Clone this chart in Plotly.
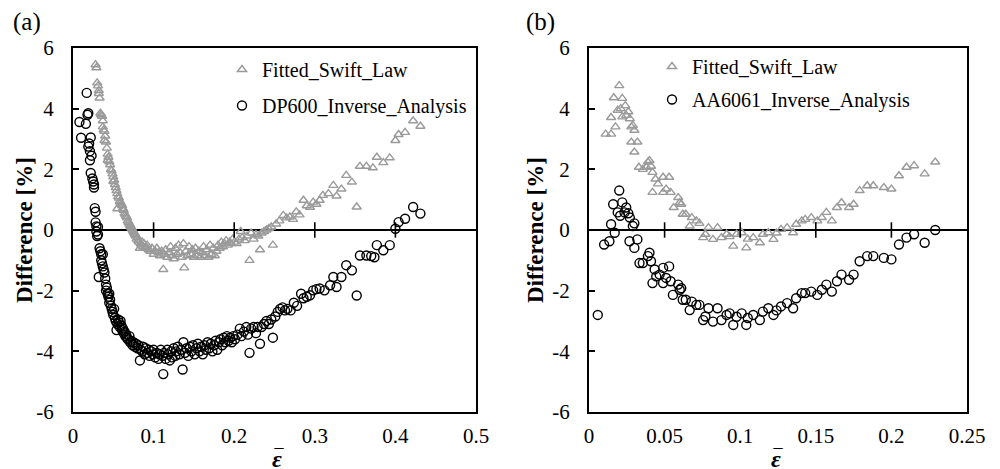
import plotly.graph_objects as go

# ---------------- Panel (a) DP600 ----------------
swift_a_x = [0.028,0.029,0.030,0.031,0.032,0.032,0.033,0.034,0.035,0.036,0.037,0.037,0.038,0.039,0.039,0.040,0.041,0.042,0.043,0.043,
             0.044,0.045,0.046,0.047,0.048,0.049,0.050,0.050,0.051,0.052,0.053,0.054,0.055,0.055,0.056,0.057,0.058,0.059,0.060,0.061,
             0.062,0.063,0.064,0.065,0.066,0.067,0.068,0.069,0.070,0.071,0.072,0.073,0.074,0.075,0.076,0.077,0.078,0.079,0.080,0.081,
             0.082,0.083,0.084,0.085,0.086,0.087,0.088,0.090,0.092,0.094,0.096,0.098,0.100,0.102,0.104,0.106,0.108,0.110,0.112,0.113,
             0.115,0.117,0.119,0.121,0.123,0.125,0.127,0.129,0.131,0.133,0.135,0.137,0.138,0.140,0.142,0.144,0.146,0.148,0.150,0.152,
             0.154,0.156,0.158,0.160,0.162,0.164,0.166,0.168,0.170,0.172,0.174,0.176,0.178,0.180,0.182,0.184,0.186,0.188,0.190,0.192,
             0.194,0.196,0.198,0.200,0.203,0.206,0.208,0.210,0.213,0.216,0.219,0.221,0.224,0.227,0.230,0.232,0.234,0.237,0.240,0.243,
             0.246,0.248,0.252,0.256,0.261,0.265,0.269,0.273,0.277,0.281,0.286,0.290,0.294,0.298,0.302,0.306,0.310,0.317,0.323,0.327,
             0.333,0.339,0.346,0.352,0.356,0.364,0.372,0.377,0.385,0.393,0.400,0.404,0.412,0.422,0.431]
swift_a_y = [5.45,5.35,4.85,4.75,4.60,4.50,4.35,3.85,3.80,3.75,3.60,3.40,3.30,3.25,2.95,3.10,2.90,2.70,2.50,2.30,
             2.40,2.25,2.15,2.00,1.95,1.85,1.75,1.60,1.65,1.50,1.40,1.30,0.70,1.20,1.10,1.05,0.95,0.90,0.85,0.80,
             0.70,0.65,0.55,0.50,0.45,0.40,0.30,0.25,0.20,0.15,0.10,0.05,0.00,-0.05,-0.10,-0.15,-0.20,-0.30,-0.25,-0.35,
             -0.40,-0.60,-0.45,-0.50,-0.40,-0.55,-0.45,-0.60,-0.50,-0.65,-0.70,-0.60,-0.80,-0.70,-0.60,-0.75,-0.85,-0.70,-1.30,-0.80,
             -0.65,-0.90,-0.75,-0.55,-0.85,-0.95,-0.60,-0.80,-0.50,-0.75,-0.90,-0.45,-1.25,-0.70,-0.85,-0.55,-0.80,-0.65,-0.90,-0.60,
             -0.85,-0.70,-0.90,-0.75,-0.55,-0.85,-0.65,-0.90,-0.50,-0.80,-0.60,-0.85,-0.70,-0.50,-0.60,-0.40,-0.55,-0.45,-0.35,-0.50,
             -0.40,-0.45,-0.30,-0.40,-0.45,-0.30,-0.05,-0.25,-0.35,-0.20,-1.00,-0.10,-0.30,-0.15,-0.20,-0.65,-0.10,-0.05,0.00,0.05,
             0.10,-0.50,0.20,0.30,0.48,0.40,0.43,0.35,0.60,0.50,0.98,0.80,0.75,0.92,0.85,0.98,1.14,1.20,1.47,1.12,
             1.35,1.80,1.58,0.76,2.10,2.10,2.05,2.40,2.22,2.38,2.95,3.15,3.22,3.60,3.42]

dp600_x = [0.008,0.010,0.016,0.017,0.018,0.019,0.019,0.020,0.021,0.021,0.022,0.023,0.022,0.024,0.025,0.026,0.026,0.027,0.028,0.028,
           0.029,0.029,0.030,0.031,0.031,0.033,0.032,0.034,0.035,0.035,0.036,0.037,0.037,0.038,0.039,0.040,0.041,0.041,0.042,0.043,
           0.044,0.045,0.045,0.046,0.047,0.048,0.049,0.050,0.051,0.052,0.053,0.054,0.055,0.056,0.057,0.058,0.059,0.060,0.061,0.062,
           0.063,0.064,0.065,0.066,0.067,0.068,0.070,0.071,0.072,0.074,0.075,0.077,0.078,0.080,0.081,0.083,0.084,0.086,0.087,0.089,
           0.090,0.092,0.094,0.095,0.097,0.099,0.100,0.102,0.104,0.106,0.107,0.109,0.111,0.112,0.113,0.115,0.117,0.118,0.120,0.122,
           0.123,0.125,0.127,0.128,0.130,0.132,0.134,0.136,0.137,0.139,0.141,0.143,0.145,0.147,0.149,0.151,0.153,0.155,0.157,0.159,
           0.161,0.163,0.165,0.167,0.169,0.171,0.173,0.175,0.177,0.179,0.181,0.183,0.185,0.187,0.189,0.191,0.193,0.195,0.197,0.199,
           0.201,0.204,0.207,0.209,0.212,0.215,0.217,0.219,0.221,0.224,0.227,0.229,0.232,0.234,0.237,0.240,0.243,0.246,0.248,0.251,
           0.254,0.257,0.260,0.263,0.266,0.270,0.274,0.278,0.283,0.286,0.290,0.294,0.298,0.302,0.306,0.312,0.319,0.323,0.327,0.333,
           0.339,0.346,0.352,0.356,0.364,0.370,0.374,0.377,0.385,0.393,0.400,0.404,0.412,0.422,0.431]
dp600_y = [3.56,3.04,3.50,4.52,3.80,3.85,2.75,2.85,2.60,2.30,3.05,2.45,1.88,1.70,1.60,1.40,1.50,0.72,0.60,0.25,
           0.12,-0.05,-0.20,0.10,-0.15,-0.60,-1.55,-0.70,-0.80,-1.00,-1.10,-1.20,-0.80,-1.30,-1.40,-1.60,-1.80,-2.00,-1.90,-2.10,
           -2.20,-2.40,-2.10,-2.30,-2.50,-2.60,-2.70,-2.80,-2.60,-2.90,-3.00,-3.30,-3.10,-2.95,-3.05,-3.20,-3.00,-3.15,-3.30,-3.25,
           -3.40,-3.35,-3.50,-3.45,-3.55,-3.60,-3.50,-3.70,-3.65,-3.80,-3.70,-3.85,-3.75,-3.90,-3.80,-4.30,-3.95,-4.00,-3.85,-4.10,
           -3.90,-4.05,-3.95,-4.15,-4.00,-4.10,-3.95,-4.20,-4.05,-4.25,-4.10,-3.95,-4.15,-4.75,-4.05,-4.25,-3.95,-4.10,-4.30,-4.00,
           -4.20,-3.90,-4.15,-4.00,-3.85,-4.10,-3.95,-4.60,-3.70,-4.05,-3.90,-4.15,-3.85,-4.00,-3.80,-4.10,-3.90,-3.75,-4.00,-3.85,
           -4.10,-3.80,-3.95,-3.70,-3.90,-3.75,-4.00,-3.80,-3.65,-3.95,-3.70,-3.60,-3.80,-3.55,-3.70,-3.50,-3.65,-3.55,-3.70,-3.50,
           -3.60,-3.45,-3.25,-3.50,-3.35,-3.20,-3.45,-4.05,-3.25,-3.20,-3.40,-3.20,-3.75,-3.20,-3.10,-3.00,-3.10,-2.95,-3.55,-2.85,
           -2.70,-2.60,-2.55,-2.65,-2.60,-2.65,-2.40,-2.50,-2.10,-2.25,-2.20,-2.15,-1.99,-1.95,-1.93,-1.99,-1.82,-1.55,-1.88,-1.55,
           -1.16,-1.33,-2.16,-0.84,-0.84,-0.86,-0.90,-0.50,-0.67,-0.50,0.04,0.26,0.37,0.76,0.54]

# ---------------- Panel (b) AA6061 ----------------
swift_b_x = [0.011,0.0146,0.0146,0.0164,0.0175,0.019,0.020,0.021,0.022,0.022,0.024,0.0246,0.026,0.027,0.028,0.028,0.029,0.030,0.030,0.032,
             0.033,0.0356,0.038,0.039,0.040,0.041,0.042,0.042,0.044,0.0456,0.049,0.049,0.051,0.053,0.054,0.056,0.059,0.060,0.061,0.062,
             0.064,0.0666,0.068,0.071,0.073,0.0755,0.077,0.079,0.082,0.085,0.0876,0.091,0.093,0.0954,0.0976,0.101,0.104,0.105,0.1086,0.113,
             0.115,0.1186,0.122,0.124,0.127,0.131,0.135,0.137,0.1407,0.143,0.147,0.151,0.154,0.157,0.1606,0.164,0.167,0.172,0.175,0.179,
             0.184,0.188,0.195,0.200,0.205,0.210,0.215,0.222,0.229]
swift_b_y = [3.16,3.16,3.71,4.36,3.40,3.95,4.76,4.00,4.34,3.73,4.10,3.78,3.90,3.67,3.40,2.90,3.45,3.29,2.57,2.90,
             2.07,2.00,2.07,2.24,2.29,2.10,1.90,1.24,1.68,1.52,1.74,1.24,1.35,1.74,1.24,0.74,1.07,0.90,0.85,0.52,
             0.52,0.13,0.41,0.30,0.22,-0.25,-0.14,0.08,-0.31,0.08,-0.25,-0.14,-0.22,-0.53,-0.14,-0.09,-0.59,-0.30,-0.25,-0.42,
             -0.14,-0.09,-0.31,-0.10,0.02,0.08,-0.09,0.19,0.30,0.35,0.41,0.30,0.41,0.58,0.30,0.74,0.90,0.74,0.85,1.30,
             1.46,1.46,1.40,1.35,1.79,2.07,2.12,1.85,2.24]

aa6061_x = [0.0058,0.010,0.0135,0.0146,0.016,0.017,0.019,0.020,0.0206,0.022,0.0235,0.0246,0.026,0.0268,0.027,0.029,0.030,0.030,0.032,0.0334,
            0.0356,0.039,0.040,0.041,0.042,0.0434,0.0445,0.0467,0.049,0.049,0.051,0.053,0.054,0.0555,0.059,0.060,0.061,0.062,0.064,0.0666,
            0.068,0.071,0.073,0.0755,0.077,0.079,0.082,0.085,0.0876,0.091,0.093,0.0954,0.0976,0.101,0.104,0.105,0.1086,0.113,0.115,0.1186,
            0.122,0.124,0.127,0.131,0.135,0.137,0.1407,0.143,0.147,0.151,0.154,0.157,0.1606,0.164,0.167,0.172,0.175,0.179,0.184,0.188,
            0.195,0.200,0.205,0.210,0.215,0.222,0.229]
aa6061_y = [-2.80,-0.48,-0.37,0.19,0.85,-0.09,0.58,1.30,0.47,0.91,0.58,0.74,0.55,-0.37,0.41,0.13,0.22,-0.59,-0.31,-1.09,
            -1.09,-0.86,-0.75,-1.03,-1.75,-1.30,-1.53,-1.47,-1.25,-1.75,-1.58,-1.20,-1.69,-2.14,-1.80,-1.97,-1.92,-2.30,-2.30,-2.64,
            -2.36,-2.47,-2.47,-2.97,-2.85,-2.58,-3.02,-2.58,-2.97,-2.80,-2.75,-3.13,-2.86,-2.75,-3.13,-2.90,-2.80,-2.97,-2.69,-2.58,
            -2.80,-2.65,-2.52,-2.41,-2.58,-2.25,-2.08,-2.08,-2.03,-2.14,-1.97,-1.80,-2.03,-1.69,-1.47,-1.64,-1.47,-1.03,-0.86,-0.86,
            -0.92,-0.97,-0.48,-0.25,-0.14,-0.42,0.00]

# ---------------- axis ticks / labels ----------------
y_tickvals = [-6, -4, -2, 0, 2, 4, 6]
y_ticktext = ["-6", "-4", "-2", "0", "2", "4", "6"]
xa_tickvals = [0, 0.1, 0.2, 0.3, 0.4, 0.5]
xa_ticktext = ["0", "0.1", "0.2", "0.3", "0.4", "0.5"]
xb_tickvals = [0, 0.05, 0.1, 0.15, 0.2, 0.25]
xb_ticktext = ["0", "0.05", "0.1", "0.15", "0.2", "0.25"]
xa_zero_ticks = [0.1, 0.2, 0.3, 0.4]
xb_zero_ticks = [0.05, 0.1, 0.15, 0.2]

FONT = "Liberation Serif"
GRAY = "#9a9a9a"
TRI = dict(symbol="triangle-up-open", size=8, color=GRAY, line=dict(width=1.4, color=GRAY))
CIR = dict(symbol="circle-open", size=9, color="black", line=dict(width=1.4, color="black"))

fig = go.Figure()

# panel a
fig.add_trace(go.Scatter(x=swift_a_x, y=swift_a_y, mode="markers", marker=TRI, name="Fitted_Swift_Law",
                         xaxis="x", yaxis="y", legend="legend", legendgroup="a1"))
fig.add_trace(go.Scatter(x=dp600_x, y=dp600_y, mode="markers", marker=CIR, name="DP600_Inverse_Analysis",
                         xaxis="x", yaxis="y", legend="legend", legendgroup="a2"))
fig.add_trace(go.Scatter(x=xa_zero_ticks, y=[0]*len(xa_zero_ticks), mode="markers", showlegend=False, hoverinfo="skip",
                         marker=dict(symbol="line-ns", size=11, line=dict(width=1.6, color="black")), xaxis="x", yaxis="y"))
# panel b
fig.add_trace(go.Scatter(x=swift_b_x, y=swift_b_y, mode="markers", marker=TRI, name="Fitted_Swift_Law",
                         xaxis="x2", yaxis="y2", legend="legend2", legendgroup="b1"))
fig.add_trace(go.Scatter(x=aa6061_x, y=aa6061_y, mode="markers", marker=CIR, name="AA6061_Inverse_Analysis",
                         xaxis="x2", yaxis="y2", legend="legend2", legendgroup="b2"))
fig.add_trace(go.Scatter(x=xb_zero_ticks, y=[0]*len(xb_zero_ticks), mode="markers", showlegend=False, hoverinfo="skip",
                         marker=dict(symbol="line-ns", size=11, line=dict(width=1.6, color="black")), xaxis="x2", yaxis="y2"))

YDOM = [1 - 412/469, 1 - 48/469]

def xax(dom, rng, tv, tt, anchor):
    return dict(domain=dom, range=rng, anchor=anchor, tickvals=tv, ticktext=tt, ticks="",
                showline=True, linecolor="black", linewidth=2, mirror=True, showgrid=False, zeroline=False,
                tickfont=dict(family=FONT, size=21, color="black"), ticklabelstandoff=4)

def yax(anchor):
    return dict(domain=YDOM, range=[-6, 6], anchor=anchor, tickvals=y_tickvals, ticktext=y_ticktext,
                ticks="inside", ticklen=6, tickwidth=1.5, tickcolor="black",
                showline=True, linecolor="black", linewidth=2, mirror=True, showgrid=False,
                zeroline=True, zerolinecolor="black", zerolinewidth=1.6,
                tickfont=dict(family=FONT, size=21, color="black"), ticklabelstandoff=13)

LEGFONT = dict(family=FONT, size=20, color="black")

def note(text, x, y, size, **kw):
    return dict(text=text, x=x/1000, y=1 - y/469, xref="paper", yref="paper", xanchor=kw.pop("xanchor", "center"),
                yanchor=kw.pop("yanchor", "middle"), showarrow=False, font=dict(family=FONT, size=size, color="black"), **kw)

YMID = (48 + 412) / 2

fig.update_layout(
    width=1000, height=469, margin=dict(l=0, r=0, t=0, b=0, autoexpand=False),
    paper_bgcolor="white", plot_bgcolor="white",
    font=dict(family=FONT, size=20, color="black"),
    xaxis=xax([73/1000, 476/1000], [0, 0.5], xa_tickvals, xa_ticktext, "y"),
    yaxis=yax("x"),
    xaxis2=xax([589/1000, 967/1000], [0, 0.25], xb_tickvals, xb_ticktext, "y2"),
    yaxis2=yax("x2"),
    legend=dict(x=222/1000, y=1 - 50/469, xanchor="left", yanchor="top", bgcolor="rgba(0,0,0,0)",
                font=LEGFONT, tracegroupgap=7, itemwidth=30),
    legend2=dict(x=652/1000, y=1 - 47/469, xanchor="left", yanchor="top", bgcolor="rgba(0,0,0,0)",
                 font=LEGFONT, tracegroupgap=4, itemwidth=30),
    showlegend=True,
    annotations=[
        note("(a)", 11, 6, 25, xanchor="left", yanchor="top"),
        note("(b)", 524, 6, 25, xanchor="left", yanchor="top"),
        note("<b>Difference [%]</b>", 25, YMID, 23, textangle=-90),
        note("<b>Difference [%]</b>", 536, YMID, 23, textangle=-90),
        # x-axis titles: bold italic epsilon with an overbar
        note("<b><i>ε</i></b>", 277, 459, 24),
        note("<b>‾</b>", 279, 459, 24),
        note("<b><i>ε</i></b>", 776, 459, 24),
        note("<b>‾</b>", 778, 459, 24),
    ],
)

fig.write_html("out.html")
